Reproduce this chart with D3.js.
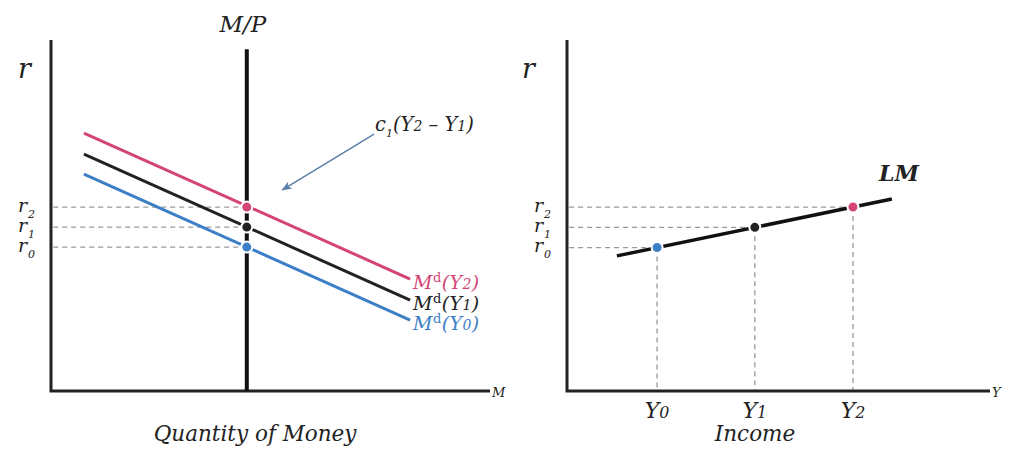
<!DOCTYPE html>
<html>
<head>
<meta charset="utf-8">
<script src="https://cdn.jsdelivr.net/npm/d3@7"></script>
<style>
  body { margin: 0; background: #fff; }
  svg text { font-family: "DejaVu Serif", serif; font-style: italic; fill: #222; }
</style>
</head>
<body>
<div id="chart"></div>
<script>
// ── Data (abstract units 0..100 on every axis) ──
var moneySupply = 44.6;                       // M/P vertical line
var moneyTop = 97.4;
var demandNames = ["Y0", "Y1", "Y2"];
var demandColors = ["#3d7fc6", "#222222", "#d44577"];
var demandStart = [[7.5, 61.8], [7.5, 67.5], [7.5, 73.5]];
var demandEnd = [[81.8, 20.2], [81.8, 25.9], [81.8, 31.9]];
var rateValues = [41.0, 46.7, 52.4];          // r0, r1, r2
var incomeValues = [21.3, 44.4, 67.6];        // Y0, Y1, Y2
var lmLine = [[11.8, 38.5], [76.8, 54.7]];
var arrowFrom = [73.6, 73.2];
var arrowTo = [52.7, 57.3];

var W = 1024, H = 460;
var svg = d3.select("#chart").append("svg").attr("width", W).attr("height", H);

svg.append("defs").append("marker")
    .attr("id", "arrowhead")
    .attr("viewBox", "0 0 10 10")
    .attr("refX", 9).attr("refY", 5)
    .attr("markerWidth", 7).attr("markerHeight", 7)
    .attr("orient", "auto")
    .append("path")
    .attr("d", "M0,1 L10,5 L0,9 L3,5 Z")
    .style("fill", "#5a80a8");

// Shared vertical scale
var y = d3.scaleLinear().domain([0, 100]).range([391, 40]);

// ── Left panel: money market ──
var xL = d3.scaleLinear().domain([0, 100]).range([51, 490]);
var left = svg.append("g");

function rLabel(g, x, val, i) {
    var t = g.append("text")
        .attr("x", x)
        .attr("y", y(val) + 5)
        .style("font-size", "19px");
    t.append("tspan").text("r");
    t.append("tspan").attr("dx", 1).attr("dy", 6).style("font-size", "11px").text(i);
}

function subLabel(t, main, sub) {
    t.append("tspan").text(main);
    t.append("tspan").style("font-size", "0.72em").text(sub);
}

// dashed guides
rateValues.forEach(function(v, i) {
    left.append("line")
        .attr("x1", xL(0.5)).attr("x2", xL(moneySupply))
        .attr("y1", y(v)).attr("y2", y(v))
        .style("stroke", "#999").style("stroke-width", 1.3)
        .style("stroke-dasharray", "5,4");
    rLabel(left, 18, v, i);
});

// axes
left.append("path")
    .attr("d", d3.line()([[xL(0), y(100)], [xL(0), y(0)], [xL(100), y(0)]]))
    .style("fill", "none").style("stroke", "#222").style("stroke-width", 3);

// demand curves
demandNames.forEach(function(n, i) {
    left.append("line")
        .attr("x1", xL(demandStart[i][0])).attr("y1", y(demandStart[i][1]))
        .attr("x2", xL(demandEnd[i][0])).attr("y2", y(demandEnd[i][1]))
        .style("stroke", demandColors[i]).style("stroke-width", 3);

    var t = left.append("text")
        .attr("x", xL(demandEnd[i][0]) + 3)
        .attr("y", y(demandEnd[i][1]) + 10)
        .style("font-size", "19px")
        .style("letter-spacing", "0.4px")
        .style("fill", demandColors[i]);
    t.append("tspan").text("M");
    t.append("tspan").attr("dy", -7).style("font-size", "13px").style("font-style", "normal").text("d");
    t.append("tspan").attr("dy", 7).text("(Y");
    t.append("tspan").style("font-size", "14px").text(n.slice(1));
    t.append("tspan").text(")");
});

// money supply
left.append("line")
    .attr("x1", xL(moneySupply)).attr("x2", xL(moneySupply))
    .attr("y1", y(moneyTop)).attr("y2", y(0))
    .style("stroke", "#111").style("stroke-width", 4);

left.append("text")
    .attr("x", xL(moneySupply) - 4).attr("y", 32)
    .attr("text-anchor", "middle")
    .style("font-size", "23px")
    .text("M/P");

// equilibrium points
rateValues.forEach(function(v, i) {
    left.append("circle")
        .attr("cx", xL(moneySupply)).attr("cy", y(v)).attr("r", 5.5)
        .style("fill", demandColors[i]).style("stroke", "#fff").style("stroke-width", 2);
});

// annotation
left.append("line")
    .attr("x1", xL(arrowFrom[0])).attr("y1", y(arrowFrom[1]))
    .attr("x2", xL(arrowTo[0])).attr("y2", y(arrowTo[1]))
    .attr("marker-end", "url(#arrowhead)")
    .style("stroke", "#5a80a8").style("stroke-width", 1.5);

var ann = left.append("text").attr("x", 375).attr("y", 131).style("font-size", "19.5px");
ann.append("tspan").text("c");
ann.append("tspan").attr("dy", 6).style("font-size", "11px").text("1");
ann.append("tspan").attr("dy", -6).text("(Y");
ann.append("tspan").style("font-size", "14px").text("2");
ann.append("tspan").text(" \u2013 Y");
ann.append("tspan").style("font-size", "14px").text("1");
ann.append("tspan").text(")");

left.append("text").attr("x", 18).attr("y", 78).style("font-size", "27px").text("r");
left.append("text").attr("x", xL(100) + 2).attr("y", 397).style("font-size", "13px").text("M");
left.append("text").attr("x", 255).attr("y", 441)
    .attr("text-anchor", "middle").style("font-size", "21.5px").text("Quantity of Money");

// ── Right panel: LM curve ──
var xR = d3.scaleLinear().domain([0, 100]).range([567, 990]);
var right = svg.append("g");
var lmY = d3.scaleLinear().domain([lmLine[0][0], lmLine[1][0]]).range([lmLine[0][1], lmLine[1][1]]);

incomeValues.forEach(function(v, i) {
    var ry = lmY(v);
    right.append("line")
        .attr("x1", xR(0.5)).attr("x2", xR(v))
        .attr("y1", y(ry)).attr("y2", y(ry))
        .style("stroke", "#999").style("stroke-width", 1.3).style("stroke-dasharray", "5,4");
    right.append("line")
        .attr("x1", xR(v)).attr("x2", xR(v))
        .attr("y1", y(ry)).attr("y2", y(0))
        .style("stroke", "#999").style("stroke-width", 1.3).style("stroke-dasharray", "5,4");
    rLabel(right, 534, rateValues[i], i);

    var t = right.append("text")
        .attr("x", xR(v)).attr("y", 418)
        .attr("text-anchor", "middle")
        .style("font-size", "22px");
    subLabel(t, "Y", demandNames[i].slice(1));
});

right.append("path")
    .attr("d", d3.line()([[xR(0), y(100)], [xR(0), y(0)], [xR(100), y(0)]]))
    .style("fill", "none").style("stroke", "#222").style("stroke-width", 3);

right.append("path")
    .attr("d", d3.line().x(function(d) { return xR(d[0]); }).y(function(d) { return y(d[1]); })(lmLine))
    .style("fill", "none").style("stroke", "#111").style("stroke-width", 3.5);

incomeValues.forEach(function(v, i) {
    right.append("circle")
        .attr("cx", xR(v)).attr("cy", y(lmY(v))).attr("r", 5.5)
        .style("fill", demandColors[i]).style("stroke", "#fff").style("stroke-width", 2);
});

right.append("text").attr("x", 879).attr("y", 181)
    .style("font-size", "22px").style("font-weight", "bold").text("LM");
right.append("text").attr("x", 522).attr("y", 78).style("font-size", "27px").text("r");
right.append("text").attr("x", xR(100) + 2).attr("y", 397).style("font-size", "13px").text("Y");
right.append("text").attr("x", 755).attr("y", 441)
    .attr("text-anchor", "middle").style("font-size", "21.5px").text("Income");
</script>
</body>
</html>
